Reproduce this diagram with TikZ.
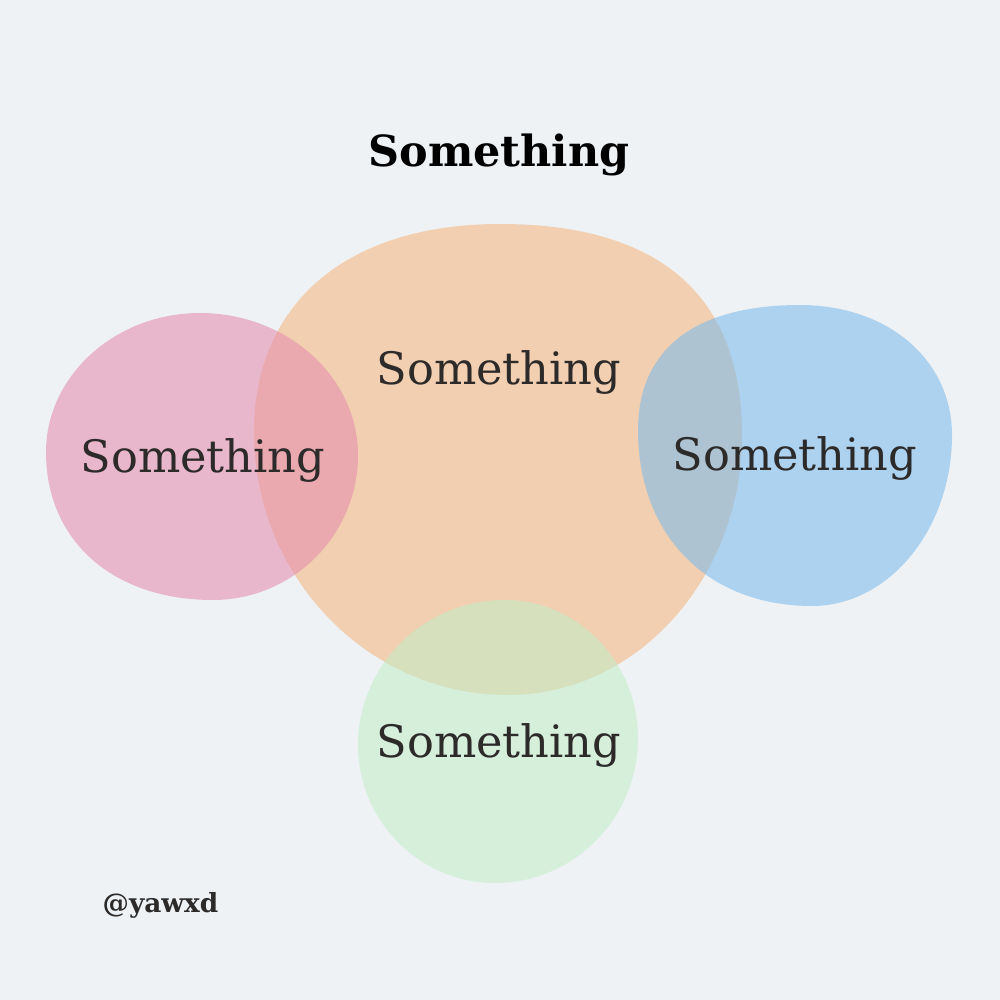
\documentclass[tikz,border=0pt]{standalone}
\usepackage{fontspec}
\setmainfont{DejaVu Serif}
\definecolor{bgcol}{RGB}{238,242,245}
\definecolor{orangecol}{RGB}{241,207,176}
\definecolor{pinkcol}{RGB}{228,142,174}
\definecolor{bluecol}{RGB}{127,188,236}
\definecolor{greencol}{RGB}{195,237,200}
\definecolor{textcol}{RGB}{45,42,42}
\begin{document}
\begin{tikzpicture}
      [x=0.01cm,y=-0.01cm,
      blob/.style={draw=none,fill opacity=0.58},
      blobtext/.style={font=\fontsize{12.7}{15}\selectfont,text=textcol}]
      \fill[bgcol] (0,0) rectangle (1000,1000);
      \useasboundingbox (0,0) rectangle (1000,1000);
      \fill[orangecol] (500,224)
        .. controls (660,224) and (742,296) .. (742,435)
        .. controls (742,578) and (637,695) .. (508,695)
        .. controls (368,695) and (254,577) .. (254,432)
        .. controls (254,303) and (347,224) .. (500,224) -- cycle;
      \fill[pinkcol,blob] (200,313)
        .. controls (287,313) and (358,377) .. (358,455)
        .. controls (358,535) and (293,600) .. (213,600)
        .. controls (113,600) and (46,541) .. (46,452)
        .. controls (46,376) and (115,313) .. (200,313) -- cycle;
      \fill[bluecol,blob] (800,305)
        .. controls (888,305) and (952,360) .. (952,435)
        .. controls (952,529) and (889,606) .. (812,606)
        .. controls (708,606) and (638,536) .. (638,430)
        .. controls (638,349) and (695,305) .. (800,305) -- cycle;
      \fill[greencol,blob] (505,600)
        .. controls (578,600) and (638,662) .. (638,738)
        .. controls (638,818) and (574,883) .. (495,883)
        .. controls (420,883) and (358,821) .. (358,745)
        .. controls (358,665) and (424,600) .. (505,600) -- cycle;
      \node[font=\bfseries\fontsize{12.2}{15}\selectfont] (title) at (499,155) {Something};
      \node[blobtext] (orangetext) at (499,372) {Something};
      \node[blobtext] (pinktext) at (203,460) {Something};
      \node[blobtext] (bluetext) at (795,458) {Something};
      \node[blobtext] (greentext) at (499,745) {Something};
      \node[font=\bfseries\fontsize{7.5}{9}\selectfont,text=textcol,anchor=west,inner sep=0pt] (handle) at (102,905) {@yawxd};
\end{tikzpicture}
\end{document}
